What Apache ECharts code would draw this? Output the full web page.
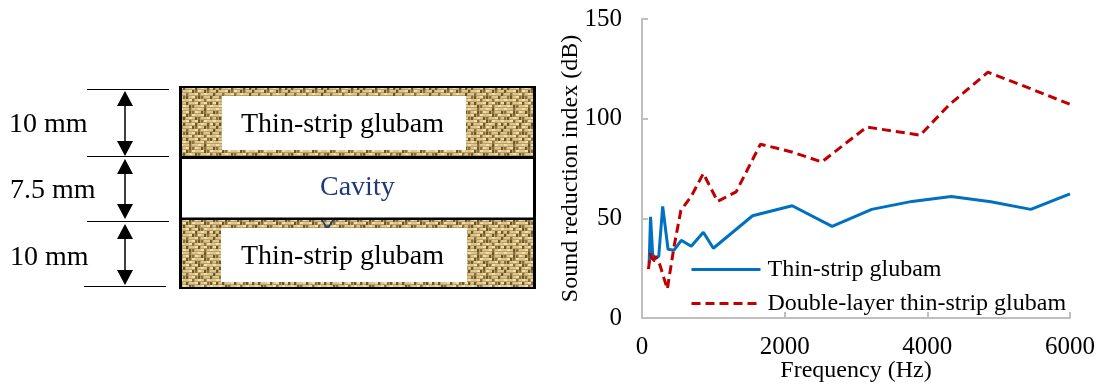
<!DOCTYPE html>
<html><head><meta charset="utf-8">
<style>html,body{margin:0;padding:0;background:#fff}#c{width:1100px;height:387px}</style>
<script src="https://cdn.jsdelivr.net/npm/echarts@6/dist/echarts.min.js"></script></head>
<body><div id="c"></div>
<script>
const seriesNames = ['Thin-strip glubam', 'Double-layer thin-strip glubam'];
const thinStrip = [[100,27.5],[120,50.8],[150,31.7],[190,30],[235,31],[290,56],[365,34.5],[450,34],[550,39],[690,36],[860,43],[1000,35],[1550,51.3],[2105,56.3],[2665,46],[3220,54.5],[3785,58.5],[4335,61],[4890,58.3],[5450,54.5],[6000,62.3]];
const doubleLayer = [[90,24.5],[120,32.5],[150,27.5],[190,31],[250,26.7],[355,14.5],[450,36],[545,54],[690,61],[860,72.5],[1060,58.5],[1320,63.3],[1660,87.2],[2100,83.3],[2520,78.3],[3150,95.8],[3900,91.7],[4300,106.7],[4850,123.3],[5450,115],[6000,107.2]];
const dimLabels = ['10 mm','7.5 mm','10 mm'];
const layerLabel = 'Thin-strip glubam';
const cavityLabel = 'Cavity';
const axisNames = {x:'Frequency (Hz)', y:'Sound reduction index (dB)'};

const serif = '"Liberation Serif","Times New Roman",serif';
const weaveMap = [
 'HHHVHHHHVHHH',
 'VHHVVHHVVHHV',
 'HHVVHHHHVVHH',
 'VVHHHVVHHHVH',
 'HHHVHHVVHHHH',
 'HVHHHVHHHVHV',
 'VHHHVVHHVVHH',
 'HHVHHHVHHHHV',
 'HVVHHVVVHHVH',
 'HHHHVHHHVHHH',
 'VHVHHHVHHVVH',
 'HHHVVHHHVHHH'
];
function weave(){
  const n=3,tile=weaveMap.length*n,size=tile;
  const c=document.createElement('canvas');c.width=c.height=size;const g=c.getContext('2d');
  g.fillStyle='#b89e68';g.fillRect(0,0,size,size);
  g.filter='blur(0.55px)';
  for(let ox=-tile;ox<=tile;ox+=tile)for(let oy=-tile;oy<=tile;oy+=tile)
  weaveMap.forEach((row,j)=>{[...row].forEach((ch,i)=>{
    if(ch==='H'){g.fillStyle=(i+j)%3===0?'#f2e0a6':'#dcc68c';g.fillRect(ox+i*n,oy+j*n,n,n-1);}
    else{g.fillStyle=(i+j)%2===0?'#6e5726':'#8b7040';g.fillRect(ox+i*n,oy+j*n,n-1,n);}
  });});
  return c;
}
const tex={image:weave(),repeat:'repeat'};
const chart=echarts.init(document.getElementById('c'),null,{renderer:'canvas'});
const T=(x,y,text,fill,size)=>({type:'text',x,y,style:{text,fill:fill||'#000',font:(size||28)+'px '+serif,align:'left',verticalAlign:'middle'}});
const L=(x1,y1,x2,y2,w,c)=>({type:'line',shape:{x1,y1,x2,y2},style:{stroke:c||'#000',lineWidth:w||1}});
const R=(x,y,width,height,fill)=>({type:'rect',shape:{x,y,width,height},style:{fill}});
const arrow=(x,y1,y2)=>[L(x,y1+10,x,y2-10,1.5),
 {type:'polygon',shape:{points:[[x,y1],[x-8,y1+15],[x+8,y1+15]]},style:{fill:'#000'}},
 {type:'polygon',shape:{points:[[x,y2],[x-8,y2-15],[x+8,y2-15]]},style:{fill:'#000'}}];
const graphic=[
 R(179,86,357,203,'#000'),
 R(182,88,351,68,tex),
 R(182,159,351,58.5,'#fff'),
 R(182,220,351,67,tex),
 {type:'polyline',shape:{points:[[322,220],[327.5,229],[333,220]]},style:{stroke:'#1f3a7a',lineWidth:1.5,fill:'none'}},
 R(222,96,244,54,'#fff'),
 R(221,228,246,54,'#fff'),
 T(241,125,layerLabel),T(241,257,layerLabel),
 T(320,188,cavityLabel,'#1f3a7a'),
 L(87,89.5,169,89.5),L(87,156.5,169,156.5),L(87,221.5,169,221.5),L(84,286.5,166,286.5),
 ...arrow(125,91,156),...arrow(125,159,219),...arrow(125,224,285),
 T(9,125,dimLabels[0]),T(10,191,dimLabels[1]),T(10,258,dimLabels[2])
];
chart.setOption({
 animation:false,
 grid:{left:642,right:30,top:19,bottom:69,outerBoundsMode:'none'},
 legend:{show:true,left:685,top:252.5,orient:'vertical',itemWidth:69,itemHeight:3,itemGap:10,
  lineStyle:{width:3},
  textStyle:{fontFamily:serif,fontSize:24,lineHeight:24,color:'#000',padding:[0,0,0,2]},
  data:seriesNames},
 xAxis:{type:'value',min:0,max:6000,interval:2000,name:axisNames.x,nameLocation:'middle',nameGap:41,nameMoveOverlap:false,
  nameTextStyle:{fontFamily:serif,fontSize:24,color:'#000'},
  axisLine:{lineStyle:{color:'#bfbfbf',width:2}},axisTick:{show:true,inside:true,length:6,lineStyle:{color:'#bfbfbf',width:2}},
  splitLine:{show:false},axisLabel:{fontFamily:serif,fontSize:25,color:'#000',margin:17,showMaxLabel:true,formatter:v=>String(v)}},
 yAxis:{type:'value',min:0,max:150,interval:50,name:axisNames.y,nameLocation:'middle',nameGap:59,nameMoveOverlap:false,
  nameTextStyle:{fontFamily:serif,fontSize:24,color:'#000'},
  axisLine:{show:true,lineStyle:{color:'#bfbfbf',width:2}},axisTick:{show:true,inside:true,length:6,lineStyle:{color:'#bfbfbf',width:2}},
  splitLine:{show:false},axisLabel:{fontFamily:serif,fontSize:25,color:'#000',margin:20,formatter:v=>String(v)}},
 series:[
  {name:seriesNames[0],type:'line',data:thinStrip,showSymbol:false,symbol:'none',lineStyle:{color:'#0070c0',width:3},itemStyle:{color:'#0070c0'}},
  {name:seriesNames[1],type:'line',data:doubleLayer,showSymbol:false,symbol:'none',lineStyle:{color:'#c00000',width:3,type:[9,5]},itemStyle:{color:'#c00000'}}
 ],
 graphic
});
</script></body></html>
